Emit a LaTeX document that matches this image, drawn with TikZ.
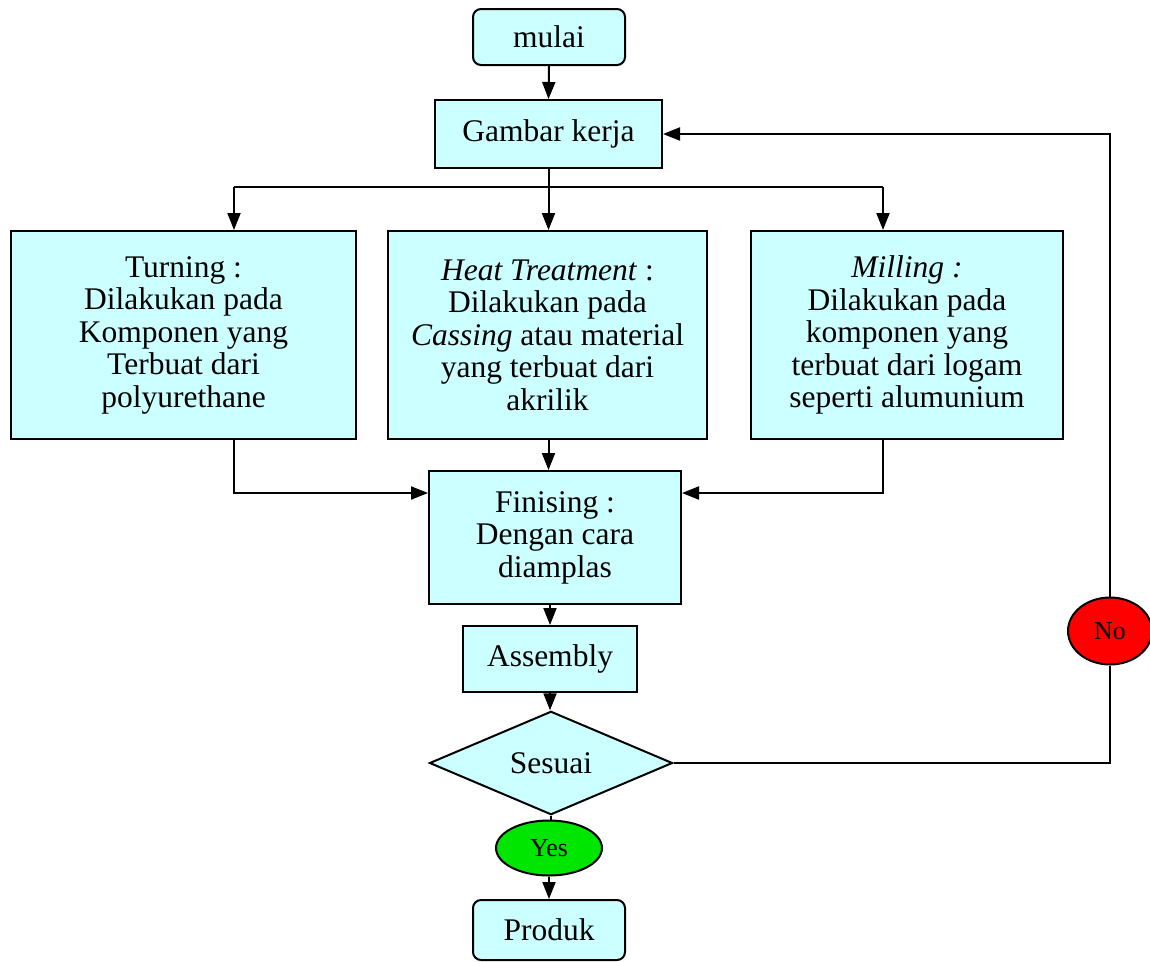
\documentclass[tikz,border=0pt]{standalone}
\usepackage{fontspec}
\setmainfont{Liberation Serif}
\usetikzlibrary{shapes.geometric,arrows.meta}
\definecolor{boxfill}{RGB}{204,255,255}
\definecolor{yesgreen}{RGB}{0,230,0}
\definecolor{nored}{RGB}{255,0,0}
\tikzset{
  procbox/.style={draw=black, line width=2pt, fill=boxfill, inner sep=0pt, align=center,
    font=\fontsize{31.5}{32.5}\selectfont},
  roundbox/.style={procbox, rounded corners=8pt},
  decide/.style={procbox, diamond},
  tag/.style={draw=black, line width=2pt, ellipse, inner sep=0pt, font=\fontsize{26}{28}\selectfont},
  conn/.style={line width=2pt, draw=black},
  arr/.style={conn, -{Triangle[length=17pt,width=13pt]}}
}
\begin{document}
\begin{tikzpicture}[x=1pt,y=-1pt]
\useasboundingbox (0,0) rectangle (1150,961);
% nodes
\node[roundbox, minimum width=152pt, minimum height=56pt] (mulai) at (549,37) {mulai};
\node[procbox, minimum width=227pt, minimum height=68pt] (gambar) at (548.5,134) {Gambar kerja};
\node[procbox, minimum width=345pt, minimum height=208pt] (turning) at (183.5,335)
  {Turning :\\Dilakukan pada\\Komponen yang\\Terbuat dari\\polyurethane};
\node[procbox, minimum width=319pt, minimum height=208pt] (heat) at (547.5,335)
  {\textit{Heat Treatment} :\\Dilakukan pada\\\textit{Cassing} atau material\\yang terbuat dari\\akrilik};
\node[procbox, minimum width=312pt, minimum height=208pt] (milling) at (907,335)
  {\textit{Milling :}\\Dilakukan pada\\komponen yang\\terbuat dari logam\\seperti alumunium};
\node[procbox, minimum width=252pt, minimum height=133pt] (finis) at (555,537.5)
  {Finising :\\Dengan cara\\diamplas};
\node[procbox, minimum width=174pt, minimum height=66pt] (assembly) at (550,659) {Assembly};
\node[decide, minimum width=243pt, minimum height=88pt] (sesuai) at (551,763) {Sesuai};
\node[tag, fill=yesgreen, minimum width=106pt, minimum height=55pt] (yes) at (549,848) {Yes};
\node[roundbox, minimum width=152pt, minimum height=60pt] (produk) at (549,930) {Produk};
\node[tag, fill=nored, minimum width=84pt, minimum height=67pt] (no) at (1110,631) {No};
% helper coordinates
\coordinate (bL) at (234,187);
\coordinate (bR) at (883,187);
\coordinate (jn) at (0,493);
% connectors
\draw[arr] (mulai.south) -- (gambar.north);
\draw[arr] (gambar.south) -- (gambar.south |- heat.north);
\draw[conn] (bL) -- (bR);
\draw[arr] (bL) -- (bL |- turning.north);
\draw[arr] (bR) -- (bR |- milling.north);
\draw[arr] (turning.south -| bL) |- (finis.west |- jn);
\draw[arr] (milling.south -| bR) |- (finis.east |- jn);
\draw[arr] (heat.south -| gambar.south) -- (gambar.south |- finis.north);
\draw[arr] (assembly.north |- finis.south) -- (assembly.north);
\draw[arr] (assembly.south) -- (sesuai.north -| assembly.south);
\draw[conn] (sesuai.south) -- (yes.north -| sesuai.south);
\draw[arr] (yes.south) -- (produk.north);
\draw[conn] (sesuai.east) -| (no.south);
\draw[arr] (no.north) |- (gambar.east);
\end{tikzpicture}
\end{document}
